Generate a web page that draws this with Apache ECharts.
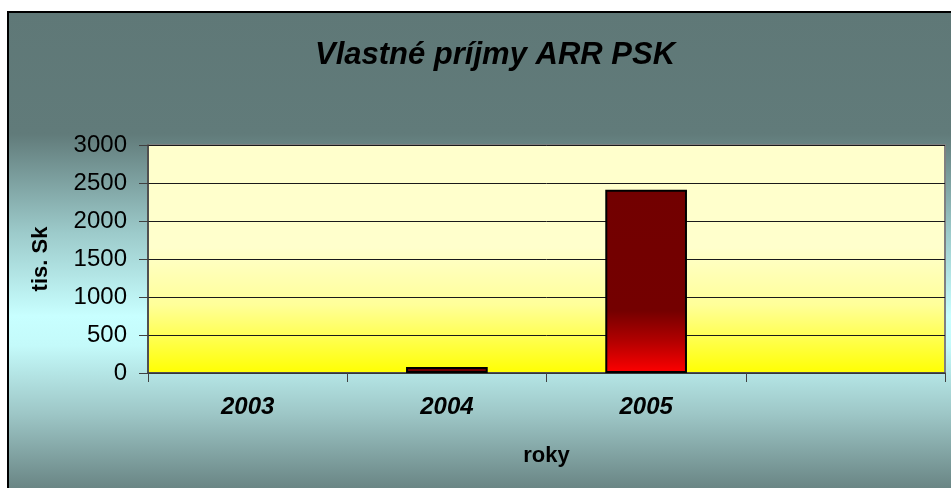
<!DOCTYPE html>
<html>
<head>
<meta charset="utf-8">
<script src="https://cdn.jsdelivr.net/npm/echarts@6/dist/echarts.min.js"></script>
<style>
html,body{margin:0;padding:0;background:#ffffff;}
#chart{width:951px;height:488px;}
</style>
</head>
<body>
<div id="chart"></div>
<script>
const titleText = 'Vlastné príjmy ARR PSK';
const categories = ['2003', '2004', '2005', ''];
const values = [0, 80, 2410, null];
const yTicks = { min: 0, max: 3000, step: 500 };
const xAxisName = 'roky';
const yAxisName = 'tis. Sk';

const FONT = '"Liberation Sans", Arial, sans-serif';
const chart = echarts.init(document.getElementById('chart'), null, { renderer: 'canvas' });

const barData = values.map(v => (v === 0 ? { value: v, itemStyle: { borderWidth: 0 } } : v));

const option = {
  animation: false,
  backgroundColor: '#ffffff',
  graphic: [
    {
      type: 'rect',
      z: -10,
      shape: { x: 8, y: 12, width: 960, height: 490 },
      style: {
        fill: new echarts.graphic.LinearGradient(0, 0, 0, 1, [
          { offset: 0, color: '#5f7877' },
          { offset: 0.25, color: '#617b7a' },
          { offset: 0.45, color: '#9ccaca' },
          { offset: 0.62, color: '#c8ffff' },
          { offset: 0.68, color: '#c4fafa' },
          { offset: 0.82, color: '#9dc6c6' },
          { offset: 1, color: '#5f7877' }
        ]),
        stroke: '#000000',
        lineWidth: 2
      }
    }
  ],
  title: {
    text: titleText,
    left: 490,
    top: 35,
    textAlign: 'center',
    textStyle: {
      fontFamily: FONT,
      fontSize: 31,
      fontWeight: 'bold',
      fontStyle: 'italic',
      color: '#000000'
    }
  },
  grid: {
    left: 148,
    right: 6,
    top: 145,
    bottom: 115,
    show: true,
    borderColor: '#808080',
    borderWidth: 2,
    backgroundColor: new echarts.graphic.LinearGradient(0, 0, 0, 1, [
      { offset: 0, color: '#ffffcc' },
      { offset: 0.45, color: '#ffffcc' },
      { offset: 0.7, color: '#ffff99' },
      { offset: 1, color: '#ffff00' }
    ])
  },
  xAxis: {
    type: 'category',
    data: categories,
    name: xAxisName,
    nameLocation: 'middle',
    nameGap: 72,
    nameTextStyle: { fontFamily: FONT, fontSize: 22, fontWeight: 'bold', color: '#000' },
    axisLine: { show: true, lineStyle: { color: '#404040', width: 1.5 } },
    axisTick: { show: true, alignWithLabel: false, length: 9, lineStyle: { color: '#404040', width: 1 } },
    axisLabel: {
      margin: 22,
      fontFamily: FONT,
      fontSize: 24,
      fontWeight: 'bold',
      fontStyle: 'italic',
      color: '#000'
    },
    splitLine: { show: false }
  },
  yAxis: {
    type: 'value',
    min: yTicks.min,
    max: yTicks.max,
    interval: yTicks.step,
    name: yAxisName,
    nameLocation: 'middle',
    nameGap: 96,
    nameRotate: 90,
    nameTextStyle: { fontFamily: FONT, fontSize: 22, fontWeight: 'bold', color: '#000' },
    axisLine: { show: true, lineStyle: { color: '#404040', width: 1.5 } },
    axisTick: { show: true, length: 9, lineStyle: { color: '#404040', width: 1 } },
    axisLabel: {
      margin: 21, fontFamily: FONT, fontSize: 24, color: '#000',
      formatter: v => String(v)
    },
    splitLine: { show: true, lineStyle: { color: '#1a1a1a', width: 1 } }
  },
  series: [
    {
      type: 'bar',
      data: barData,
      barWidth: '41%',
      itemStyle: {
        borderColor: '#000000',
        borderWidth: 2,
        color: new echarts.graphic.LinearGradient(0, 0, 0, 1, [
          { offset: 0, color: '#720000' },
          { offset: 0.66, color: '#740000' },
          { offset: 0.82, color: '#b00000' },
          { offset: 1, color: '#ff0000' }
        ])
      }
    }
  ]
};
chart.setOption(option);
</script>
</body>
</html>
